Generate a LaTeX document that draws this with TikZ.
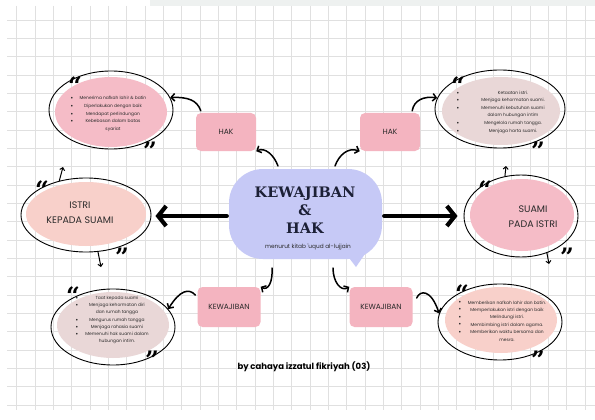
\documentclass[tikz,border=0pt]{standalone}
\usepackage{fontspec}
\setmainfont{Lato}
\newfontfamily\hand{Poppins}
\newfontfamily\slab{DejaVu Serif}
\newfontfamily\quotefont{DejaVu Serif}
\newcommand{\quo}[1]{\raisebox{-15pt}[3.5pt][3.5pt]{#1}}
\usetikzlibrary{shapes.geometric,arrows.meta,calc}
\definecolor{gridc}{HTML}{E0E0E0}
\definecolor{pinkfill}{HTML}{F5BCC7}
\definecolor{mauvefill}{HTML}{E9D7D7}
\definecolor{peachfill}{HTML}{F8D0CA}
\definecolor{boxpink}{HTML}{F4B4C0}
\definecolor{lav}{HTML}{C6C9F6}
\definecolor{navy}{HTML}{1C2036}
\definecolor{ink}{HTML}{2A2A2A}
\definecolor{topgray}{HTML}{EEF1F0}
\tikzset{
  gridline/.style={gridc, line width=0.6pt},
  fillell/.style={ellipse, inner sep=0pt, draw=none},
  ring/.style={ellipse, draw=black, line width=0.9pt, inner sep=0pt, fill=none},
  labelbox/.style={rounded corners=5pt, fill=boxpink, inner sep=0pt, font=\hand\fontsize{7.5}{8}\selectfont, text=ink},
  bigtitle/.style={font=\hand\fontsize{9.5}{15}\selectfont, text=ink, align=center},
  small/.style={font=\hand\fontsize{4.4}{7.6}\selectfont, text=ink, align=center, inner sep=0pt},
  bul/.style={font=\fontsize{4.4}{7.6}\selectfont, text=ink, align=center, inner sep=0pt},
  quote/.style={font=\quotefont\bfseries\fontsize{24}{24}\selectfont, inner sep=0pt, anchor=center},
  conn/.style={line width=1.5pt, line cap=round, -{Straight Barb[length=3.5pt,width=7.5pt]}},
  bigarrow/.style={line width=4.2pt, line cap=round, line join=round, -{Straight Barb[length=8pt,width=20pt]}},
  tail/.style={line width=1pt, line cap=round, -{Straight Barb[length=2.5pt,width=5pt]}},
}
\begin{document}
\begin{tikzpicture}[x=1pt,y=-1pt]
\useasboundingbox (0,0) rectangle (595,420);
\fill[white] (0,0) rectangle (595,420);
\fill[topgray] (150,0) -- (595,0) -- (595,6) -- (150,6) -- cycle;
% grid
\foreach \i in {1,...,32} {\draw[gridline] ({-1.6+18.33*\i},6) -- ({-1.6+18.33*\i},410);}
\foreach \i in {0,...,21} {\draw[gridline] (7,{20+18.33*\i}) -- (595,{20+18.33*\i});}

% central bubble
\fill[lav, rounded corners=34pt] (229,169) rectangle (382,259);
\fill[lav] (343,250) -- (356,267) -- (369,248) -- cycle;
\node[minimum width=153pt, minimum height=90pt, inner sep=0pt] (c) at (305.5,214) {};
\node[font=\slab\bfseries\fontsize{14.5}{18}\selectfont, text=navy, align=center] (title) at (305,210) {KEWAJIBAN\\\&\\HAK};
\node[font=\hand\fontsize{5.8}{6}\selectfont, text=ink] (sub) at (308,247) {menurut kitab 'uqud al-lujjain};

% label boxes
\node[labelbox, minimum width=60pt, minimum height=38pt] (hak1) at (226,132) {HAK};
\node[labelbox, minimum width=60pt, minimum height=38pt] (hak2) at (390,132) {HAK};
\node[labelbox, minimum width=63pt, minimum height=40pt] (kw1) at (229,307) {KEWAJIBAN};
\node[labelbox, minimum width=63pt, minimum height=40pt] (kw2) at (381,307) {KEWAJIBAN};

% ellipses: top-left
\node[fillell, fill=pinkfill, minimum width=112pt, minimum height=70pt] (tl) at (111,112) {};
\node[ring, minimum width=124pt, minimum height=78pt] (tlr) at (111,110) {};
% top-right
\node[fillell, fill=mauvefill, minimum width=118pt, minimum height=68pt] (tr) at (501,111) {};
\node[ring, minimum width=130pt, minimum height=78pt] (trr) at (500,109) {};
% middle-left
\node[fillell, fill=peachfill, minimum width=120pt, minimum height=64pt] (ml) at (86,214) {};
\node[ring, minimum width=130pt, minimum height=74pt] (mlr) at (86,215) {};
% middle-right
\node[fillell, fill=pinkfill, minimum width=104pt, minimum height=72pt] (mr) at (522,215) {};
\node[ring, minimum width=114pt, minimum height=82pt] (mrr) at (521,216) {};
% bottom-left
\node[fillell, fill=mauvefill, minimum width=112pt, minimum height=66pt] (bl) at (113,325) {};
\node[ring, minimum width=124pt, minimum height=76pt] (blr) at (113,327) {};
% bottom-right
\node[fillell, fill=peachfill, minimum width=112pt, minimum height=66pt] (br) at (501,320) {};
\node[ring, minimum width=124pt, minimum height=76pt] (brr) at (500,322) {};

% little arrows on the middle rings
\coordinate (mlt) at (63,167); \coordinate (mlb) at (101,267);
\coordinate (mrt) at (506,166); \coordinate (mrb) at (549,264);
\draw[tail] (mlr.128) -- (mlt);
\draw[tail] (mlr.-72) -- (mlb);
\draw[tail] (mrr.112) -- (mrt);
\draw[tail] (mrr.-55) -- (mrb);

% big labels
\node[bigtitle] (istri) at (80,213) {ISTRI\\KEPADA SUAMI};
\node[bigtitle] (suami) at (533,217) {SUAMI\\PADA ISTRI};

% quotes
\node[quote] (q1) at (75,80) {\quo{“}};
\node[quote] (q2) at (150,145) {\quo{”}};
\node[quote] (q3) at (458,80) {\quo{“}};
\node[quote] (q4) at (538,145) {\quo{”}};
\node[quote] (q5) at (42,183) {\quo{“}};
\node[quote] (q6) at (122,250) {\quo{”}};
\node[quote] (q7) at (485,183) {\quo{“}};
\node[quote] (q8) at (567,250) {\quo{”}};
\node[quote] (q9) at (73,289) {\quo{“}};
\node[quote] (q10) at (152,353) {\quo{”}};
\node[quote] (q11) at (462,287) {\quo{“}};
\node[quote] (q12) at (538,353) {\quo{”}};

% ellipse texts
\node[small] (t1) at (113,114) {Menerima nafkah lahir \& batin\\Diperlakukan dengan baik\\Mendapat perlindungan\\Kebebasan dalam batas\\syariat};
\node[bul] (b1) at (72,114) {•\\•\\•\\•\\\phantom{•}};
\node[small] (t2) at (513,112) {Ketaatan istri.\\Menjaga kehormatan suami.\\Memenuhi kebutuhan suami\\dalam hubungan intim\\Mengelola rumah tangga.\\Menjaga harta suami.};
\node[bul] (b2) at (458,112) {•\\•\\•\\\phantom{•}\\•\\•};
\node[small, font=\hand\fontsize{4.4}{7.3}\selectfont] (t3) at (117,320) {Taat kepada suami\\Menjaga kehormatan diri\\dan rumah tangga\\Mengurus rumah tangga\\Menjaga rahasia suami\\Memenuhi hak suami dalam\\hubungan intim.};
\node[bul, font=\fontsize{4.4}{7.3}\selectfont] (b3) at (77,320) {•\\•\\\phantom{•}\\•\\•\\•\\\phantom{•}};
\node[small, font=\hand\fontsize{4.4}{7.4}\selectfont] (t4) at (507,321) {Memberikan nafkah lahir dan batin.\\Memperlakukan istri dengan baik\\Melindungi istri.\\Membimbing istri dalam agama.\\Memberikan waktu bersama dan\\mesra.};
\node[bul, font=\fontsize{4.4}{7.4}\selectfont] (b4) at (460,321) {•\\•\\•\\•\\•\\\phantom{•}};

% connector end points near the bubble
\coordinate (c1) at (278,166);
\coordinate (c2) at (335,166);
\coordinate (c3) at (272,268);
\coordinate (c4) at (333,268);

% connectors
\draw[conn] (c1) .. controls (274,155) and (265,147) .. (hak1.south east);
\draw[conn] (c2) .. controls (339,155) and (348,147) .. (hak2.south west);
\draw[conn] (hak1.north west) ++(5,-2) .. controls (197,100) and (188,97) .. (tlr.12);
\draw[conn] (hak2.north east) ++(-8,-2) .. controls (414,100) and (424,96) .. (trr.170);
\draw[conn] (c3) .. controls (273,282) and (268,291) .. (kw1.north east);
\draw[conn] (c4) .. controls (333,282) and (341,292) .. (kw2.north west);
\draw[conn] (kw1.west) ++(-2,-12) .. controls (189,288) and (180,290) .. (blr.18);
\draw[conn] (kw2.east) ++(4,-9) .. controls (420,290) and (431,289) .. (brr.172);

% big arrows
\draw[bigarrow] ($(c.west)+(-2,2)$) -- ($(mlr.east |- 0,216)+(4,0)$);
\draw[bigarrow] ($(c.east)+(2,2)$) -- ($(mrr.west |- 0,216)+(-6,0)$);

% credit
\node[font=\hand\bfseries\fontsize{8.5}{9}\selectfont, text=black] (credit) at (304,367) {by cahaya izzatul fikriyah (03)};
\end{tikzpicture}
\end{document}
